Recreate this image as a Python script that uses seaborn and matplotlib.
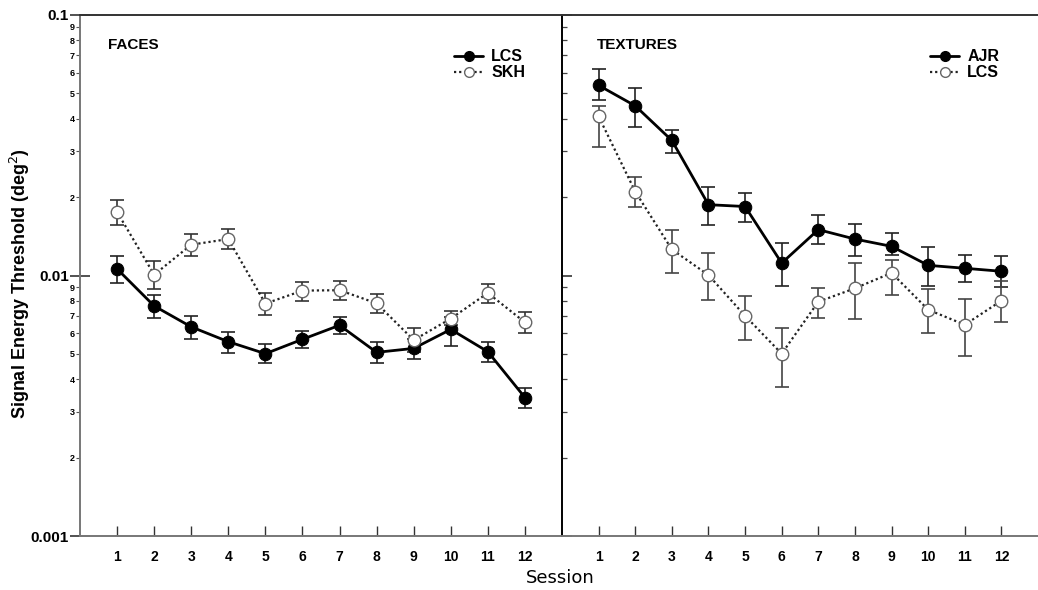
import numpy as np
import pandas as pd
import matplotlib
matplotlib.use("Agg")
import matplotlib.pyplot as plt
from matplotlib.ticker import FixedLocator, FixedFormatter, NullFormatter
from matplotlib.lines import Line2D
import seaborn as sns

# ---------------- data ----------------
sessions = list(range(1, 13))

faces_lcs = [0.0106, 0.00764, 0.00635, 0.00557, 0.00501, 0.00569, 0.00644, 0.00507, 0.00525, 0.00621, 0.00510, 0.00340]
faces_lcs_lo = [0.0094, 0.00687, 0.00571, 0.00504, 0.00460, 0.00526, 0.00598, 0.00460, 0.00480, 0.00538, 0.00464, 0.00309]
faces_lcs_hi = [0.0119, 0.00843, 0.00701, 0.00608, 0.00544, 0.00614, 0.00696, 0.00557, 0.00570, 0.00695, 0.00557, 0.00369]

faces_skh = [0.01754, 0.01007, 0.01313, 0.01380, 0.00780, 0.00875, 0.00878, 0.00782, 0.00565, 0.00683, 0.00857, 0.00661]
faces_skh_lo = [0.01563, 0.00887, 0.01189, 0.01264, 0.00708, 0.00800, 0.00804, 0.00716, 0.00510, 0.00645, 0.00787, 0.00604]
faces_skh_hi = [0.01946, 0.01135, 0.01439, 0.01514, 0.00859, 0.00947, 0.00952, 0.00847, 0.00630, 0.00731, 0.00931, 0.00723]

tex_ajr = [0.0537, 0.0448, 0.0330, 0.0187, 0.0184, 0.01116, 0.0150, 0.0138, 0.01294, 0.01094, 0.01066, 0.01038]
tex_ajr_lo = [0.0470, 0.0371, 0.0295, 0.0156, 0.0160, 0.0091, 0.0132, 0.0119, 0.01199, 0.00912, 0.00944, 0.00900]
tex_ajr_hi = [0.0622, 0.0524, 0.0363, 0.0218, 0.0207, 0.01333, 0.0170, 0.0158, 0.01452, 0.01285, 0.01199, 0.01186]

tex_lcs = [0.0408, 0.0210, 0.01259, 0.01004, 0.0070, 0.00501, 0.00793, 0.00893, 0.01023, 0.00739, 0.00647, 0.00800]
tex_lcs_lo = [0.0312, 0.0184, 0.01026, 0.00805, 0.00565, 0.00373, 0.00687, 0.00681, 0.00841, 0.00600, 0.00491, 0.00665]
tex_lcs_hi = [0.0448, 0.0238, 0.01500, 0.01216, 0.00834, 0.00628, 0.00899, 0.01114, 0.01148, 0.00885, 0.00811, 0.00951]

major_ticks = [0.001, 0.01, 0.1]
major_labels = ["0.001", "0.01", "0.1"]
minor_digits = [2, 3, 4, 5, 6, 7, 8, 9]

# ---------------- style ----------------
sns.set_theme(style="ticks", rc={"text.color": "black", "axes.labelcolor": "black",
                                 "xtick.color": "black", "ytick.color": "black"})
plt.rcParams["font.family"] = ["Liberation Sans", "DejaVu Sans"]

W, H = 1038, 590
fig = plt.figure(figsize=(W / 100, H / 100), dpi=100)

x0, x1, x2 = 80, 562, 1038
ytop, ybot = 15, 536
axL = fig.add_axes([x0 / W, 1 - ybot / H, (x1 - x0) / W, (ybot - ytop) / H])
axR = fig.add_axes([x1 / W, 1 - ybot / H, (x2 - x1) / W, (ybot - ytop) / H])

solid_kw = dict(color="black", linestyle="-", linewidth=2.0, marker="o", markersize=9,
                markerfacecolor="black", markeredgecolor="black")
dotted_kw = dict(color="#222222", linestyle=(0, (1, 1.3)), linewidth=1.6, marker="o", markersize=9,
                 markerfacecolor="white", markeredgecolor="#666666", markeredgewidth=1.0)


def draw_series(ax, vals, lo, hi, kw, ecolor):
    vals = np.array(vals); lo = np.array(lo); hi = np.array(hi)
    ax.errorbar(sessions, vals, yerr=[vals - lo, hi - vals], fmt="none",
                ecolor=ecolor, elinewidth=1.2, capsize=5, capthick=1.2, zorder=2)
    df = pd.DataFrame({"Session": sessions, "v": vals})
    sns.lineplot(data=df, x="Session", y="v", ax=ax, zorder=3, **kw)


draw_series(axL, faces_lcs, faces_lcs_lo, faces_lcs_hi, solid_kw, "#222222")
draw_series(axL, faces_skh, faces_skh_lo, faces_skh_hi, dotted_kw, "#333333")
draw_series(axR, tex_ajr, tex_ajr_lo, tex_ajr_hi, solid_kw, "#222222")
draw_series(axR, tex_lcs, tex_lcs_lo, tex_lcs_hi, dotted_kw, "#444444")

minor_vals = [d * 0.001 for d in minor_digits] + [d * 0.01 for d in minor_digits]
minor_lbls = [str(d) for d in minor_digits] * 2

for ax in (axL, axR):
    ax.set_yscale("log")
    ax.set_ylim(0.001, 0.1)
    ax.set_xlim(0, 13)
    ax.set_xticks(sessions)
    ax.set_xticklabels([str(s) for s in sessions], fontsize=10, fontweight="bold")
    ax.tick_params(axis="x", which="both", direction="in", length=7.2, width=1.0, pad=10,
                   color="#333333", labelcolor="black", top=False, bottom=True)
    ax.set_xlabel("")
    ax.set_ylabel("")
    ax.yaxis.set_major_locator(FixedLocator(major_ticks))
    ax.yaxis.set_minor_locator(FixedLocator(minor_vals))
    for s in ("top", "bottom", "left", "right"):
        ax.spines[s].set_linewidth(1.4)
    ax.spines["right"].set_visible(False)
    ax.spines["top"].set_color("#333333")
    ax.spines["bottom"].set_color("#777777")
    ax.tick_params(axis="y", which="both", left=True, right=False)

# left panel y labels
axL.yaxis.set_major_formatter(FixedFormatter(major_labels))
axL.yaxis.set_minor_formatter(FixedFormatter(minor_lbls))
axL.tick_params(axis="y", which="major", direction="inout", length=14, width=1.2, pad=1,
                labelsize=11, color="#333333", labelcolor="black")
axL.tick_params(axis="y", which="minor", direction="out", length=3, width=0.8, pad=1,
                labelsize=6.5, color="#555555", labelcolor="black")
for lab in axL.get_yticklabels():
    lab.set_fontweight("bold")
for lab in axL.get_yticklabels(minor=True):
    lab.set_fontweight("bold")
axL.spines["left"].set_color("#777777")

# right panel y ticks (inward, no labels)
axR.yaxis.set_major_formatter(NullFormatter())
axR.yaxis.set_minor_formatter(NullFormatter())
axR.tick_params(axis="y", which="major", direction="in", length=7.2, width=1.2, color="#333333")
axR.tick_params(axis="y", which="minor", direction="in", length=3.6, width=0.9, color="#444444")
axR.spines["left"].set_color("black")

# panel titles
fig.text(108 / W, 1 - 45 / H, "FACES", fontsize=11, fontweight="bold", va="center", ha="left",
         color="black")
fig.text(597 / W, 1 - 45 / H, "TEXTURES", fontsize=11, fontweight="bold", va="center", ha="left",
         color="black")

# legends
def legend(ax, names, loc_xy):
    handles = [Line2D([], [], **solid_kw, label=names[0]),
               Line2D([], [], **dotted_kw, label=names[1])]
    for h in handles:
        h.set_markersize(7)
    leg = ax.legend(handles=handles, loc="upper left", bbox_to_anchor=loc_xy,
                    bbox_transform=fig.transFigure, frameon=False, handlelength=1.8,
                    handletextpad=0.5, labelspacing=0.05,
                    prop={"weight": "bold", "size": 11.5, "family": "Liberation Sans"})
    for t in leg.get_texts():
        t.set_color("black")

legend(axL, ["LCS", "SKH"], (440 / W, 1 - 35 / H))
legend(axR, ["AJR", "LCS"], (916 / W, 1 - 35 / H))

# axis labels
fig.text(560 / W, 1 - 578 / H, "Session", fontsize=13, ha="center", va="center",
         family=["DejaVu Sans"], color="black")
fig.text(20 / W, 1 - 284 / H, "Signal Energy Threshold (deg$^2$)", fontsize=13, fontweight="bold",
         rotation=90, ha="center", va="center", color="black")

fig.savefig("out.png", dpi=100)
